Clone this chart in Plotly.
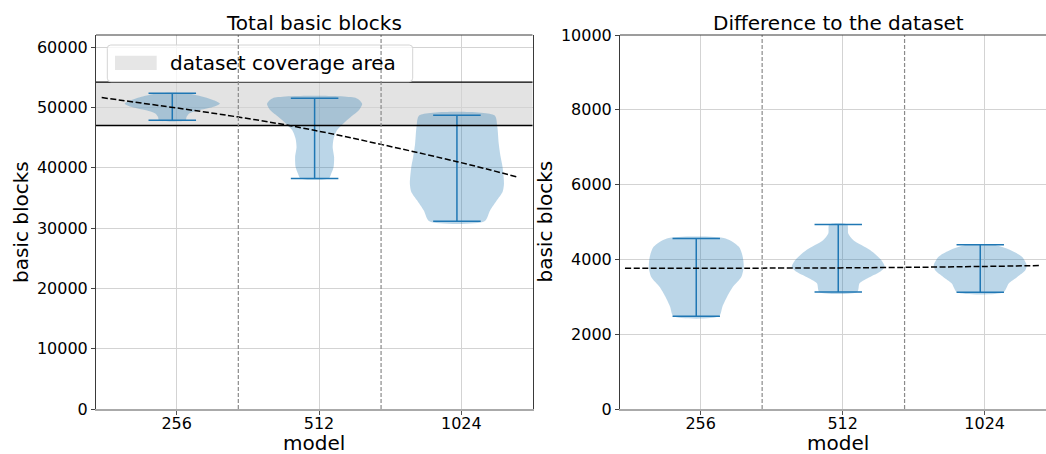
import plotly.graph_objects as go

# ---------------- data ----------------
models = ['256', '512', '1024']

# left panel: total basic blocks -- violin outlines (value, relative density)
total_256_vals = [47850, 48400, 48960, 49510, 50060, 50620, 51050, 51620, 52330]
total_256_dens = [0.28, 0.30, 0.35, 0.55, 0.85, 1.00, 0.91, 0.70, 0.30]
total_512_vals = [38220, 39020, 40110, 41770, 43430, 44820, 46200, 47300, 48400, 49510, 50620, 51530]
total_512_dens = [0.30, 0.35, 0.40, 0.41, 0.38, 0.40, 0.47, 0.60, 0.76, 0.93, 1.00, 0.88]
total_1024_vals = [31110, 32940, 34590, 35970, 37360, 40110, 41770, 43990, 46740, 48680]
total_1024_dens = [0.58, 0.70, 0.84, 0.96, 0.99, 0.96, 0.92, 0.88, 0.85, 0.79]

# right panel: difference to the dataset
diff_256_vals = [2480, 2730, 3000, 3260, 3530, 3800, 4070, 4335, 4560]
diff_256_dens = [0.48, 0.55, 0.65, 0.77, 0.95, 1.00, 0.98, 0.90, 0.62]
diff_512_vals = [3130, 3360, 3530, 3670, 3800, 3980, 4250, 4510, 4690, 4930]
diff_512_dens = [0.40, 0.45, 0.67, 0.88, 0.98, 0.91, 0.67, 0.32, 0.21, 0.19]
diff_1024_vals = [3120, 3355, 3530, 3710, 3845, 4070, 4250, 4390]
diff_1024_dens = [0.49, 0.60, 0.78, 0.95, 0.98, 0.88, 0.63, 0.28]

# dataset coverage band (left panel)
dataset_low = 47000
dataset_high = 54200

# dashed trend curves: points (x in category units)
trend_total_x = [-0.527, 0.433, 0.967, 1.97, 2.40]
trend_total_y = [51620, 48400, 46200, 41000, 38410]
trend_diff_x = [-0.533, 0.967, 1.967, 2.40]
trend_diff_y = [3765, 3773, 3810, 3837]

# separators between model groups (category units)
separators = [0.433, 1.436]

# ---------------- style ----------------
FONT = 'DejaVu Sans'
BLUE = '#1f77b4'
FILL = 'rgba(31,119,180,0.3)'
HALF = 0.334      # max half width of a violin (category units)
CAP = 0.167       # half length of the min/max caps
SHIFT = -0.031    # violins sit slightly left of the tick

W, H = 1046, 454
MT, MB = 35, 45
PLOT_H = H - MT - MB


def py(p):
    return (H - MB - p) / PLOT_H


def px(p):
    return p / W


fig = go.Figure()


def add_violin(i, vals, dens, xa, ya):
    pos = i + SHIFT
    xs = [pos + d * HALF for d in dens] + [pos - d * HALF for d in reversed(dens)]
    ys = list(vals) + list(reversed(vals))
    xs.append(xs[0])
    ys.append(ys[0])
    fig.add_trace(go.Scatter(x=xs, y=ys, fill='toself', fillcolor=FILL, mode='lines',
                             line=dict(width=0, shape='spline', smoothing=0.7),
                             xaxis=xa, yaxis=ya, showlegend=False, hoverinfo='skip'))
    lo, hi = min(vals), max(vals)
    fig.add_trace(go.Scatter(
        x=[pos, pos, None, pos - CAP, pos + CAP, None, pos - CAP, pos + CAP],
        y=[lo, hi, None, lo, lo, None, hi, hi],
        mode='lines', line=dict(color=BLUE, width=1.5),
        xaxis=xa, yaxis=ya, showlegend=False, hoverinfo='skip'))


left = [(total_256_vals, total_256_dens), (total_512_vals, total_512_dens),
        (total_1024_vals, total_1024_dens)]
right = [(diff_256_vals, diff_256_dens), (diff_512_vals, diff_512_dens),
         (diff_1024_vals, diff_1024_dens)]
for i, (v, d) in enumerate(left):
    add_violin(i, v, d, 'x', 'y')
for i, (v, d) in enumerate(right):
    add_violin(i, v, d, 'x2', 'y2')

# trend curves
fig.add_trace(go.Scatter(x=trend_total_x, y=trend_total_y, mode='lines',
                         line=dict(color='black', width=1.5, dash='6px,2.5px',
                                   shape='spline', smoothing=1.0),
                         xaxis='x', yaxis='y', showlegend=False, hoverinfo='skip'))
fig.add_trace(go.Scatter(x=trend_diff_x, y=trend_diff_y, mode='lines',
                         line=dict(color='black', width=1.5, dash='6px,2.5px',
                                   shape='spline', smoothing=1.0),
                         xaxis='x2', yaxis='y2', showlegend=False, hoverinfo='skip'))

shapes = []
# coverage band
shapes.append(dict(type='rect', xref='x domain', yref='y', x0=0, x1=1,
                   y0=dataset_low, y1=dataset_high,
                   fillcolor='rgba(128,128,128,0.22)', line=dict(width=0), layer='below'))
for yv in (dataset_low, dataset_high):
    shapes.append(dict(type='line', xref='x domain', yref='y', x0=0, x1=1, y0=yv, y1=yv,
                       line=dict(color='black', width=1.3), layer='above'))

# manual legend box (matplotlib style, rounded)
x0, x1 = px(107.3), px(412.7)
y0, y1 = py(81.7), py(45)
rx, ry = 3.5 / W, 3.5 / PLOT_H
path = (f'M{x0+rx},{y0} L{x1-rx},{y0} Q{x1},{y0} {x1},{y0+ry} L{x1},{y1-ry} '
        f'Q{x1},{y1} {x1-rx},{y1} L{x0+rx},{y1} Q{x0},{y1} {x0},{y1-ry} '
        f'L{x0},{y0+ry} Q{x0},{y0} {x0+rx},{y0} Z')
shapes.append(dict(type='path', xref='paper', yref='paper', path=path,
                   fillcolor='rgba(255,255,255,0.8)', line=dict(color='#d4d4d4', width=1),
                   layer='above'))
shapes.append(dict(type='rect', xref='paper', yref='paper',
                   x0=px(115), x1=px(156.7), y0=py(70), y1=py(55.7),
                   fillcolor='rgba(128,128,128,0.2)', line=dict(width=0), layer='above'))

# separators
for s in separators:
    for xa, ya in (('x', 'y domain'), ('x2', 'y2 domain')):
        shapes.append(dict(type='line', xref=xa, yref=ya, x0=s, x1=s, y0=0, y1=1,
                           line=dict(color='#8a8a8a', width=1.2, dash='4px,2px'),
                           layer='above'))

# top spines
for xa, ya in (('x domain', 'y domain'), ('x2 domain', 'y2 domain')):
    shapes.append(dict(type='line', xref=xa, yref=ya, x0=0, x1=1, y0=1, y1=1,
                       line=dict(color='#3a3a3a', width=1), layer='above'))
fig.update_layout(shapes=shapes)

annotations = [
    dict(text='Total basic blocks', x=px(314.25), y=py(23)),
    dict(text='Difference to the dataset', x=px(838.25), y=py(23)),
    dict(text='model', x=px(314.25), y=py(443)),
    dict(text='model', x=px(838), y=py(443)),
    dict(text='basic blocks', x=px(21), y=py(222), textangle=-90),
    dict(text='basic blocks', x=px(544.5), y=py(222), textangle=-90),
]
for a in annotations:
    a.update(xref='paper', yref='paper', showarrow=False, xanchor='center',
             yanchor='middle', font=dict(family=FONT, size=20, color='black'))
annotations.append(dict(text='dataset coverage area', xref='paper', yref='paper',
                        x=px(167.5), y=py(63), xanchor='left', yanchor='middle',
                        showarrow=False, font=dict(family=FONT, size=20, color='black')))
fig.update_layout(annotations=annotations)

xcommon = dict(tickvals=[0, 1, 2], ticktext=models, showgrid=True, gridcolor='#d3d3d3',
               gridwidth=1, ticks='outside', ticklen=4, tickcolor='#555555',
               ticklabelstandoff=-5,
               tickfont=dict(family=FONT, size=16, color='black'), showline=True,
               linecolor='#aaaaaa', linewidth=1.6, zeroline=False, mirror=False)
ycommon = dict(showgrid=True, gridcolor='#d3d3d3', gridwidth=1, ticks='outside', ticklen=4,
               tickcolor='#444444', tickfont=dict(family=FONT, size=16, color='black'),
               tickformat='d',
               showline=True, linecolor='#3a3a3a', linewidth=1, zeroline=False)

fig.update_layout(
    width=W, height=H, margin=dict(l=0, r=0, t=MT, b=MB),
    paper_bgcolor='white', plot_bgcolor='white', showlegend=False,
    xaxis=dict(domain=[px(96), px(532.5)], range=[-0.567, 2.5], anchor='y', **xcommon),
    yaxis=dict(domain=[0, 1], range=[0, 62000], tickvals=list(range(0, 60001, 10000)),
               anchor='x', mirror=True, **ycommon),
    xaxis2=dict(domain=[px(620), 1.0], range=[-0.568, 2.432], anchor='y2', **xcommon),
    yaxis2=dict(domain=[0, 1], range=[0, 10000], tickvals=list(range(0, 10001, 2000)),
                anchor='x2', mirror=False, **ycommon),
)

fig.write_html('out.html')
